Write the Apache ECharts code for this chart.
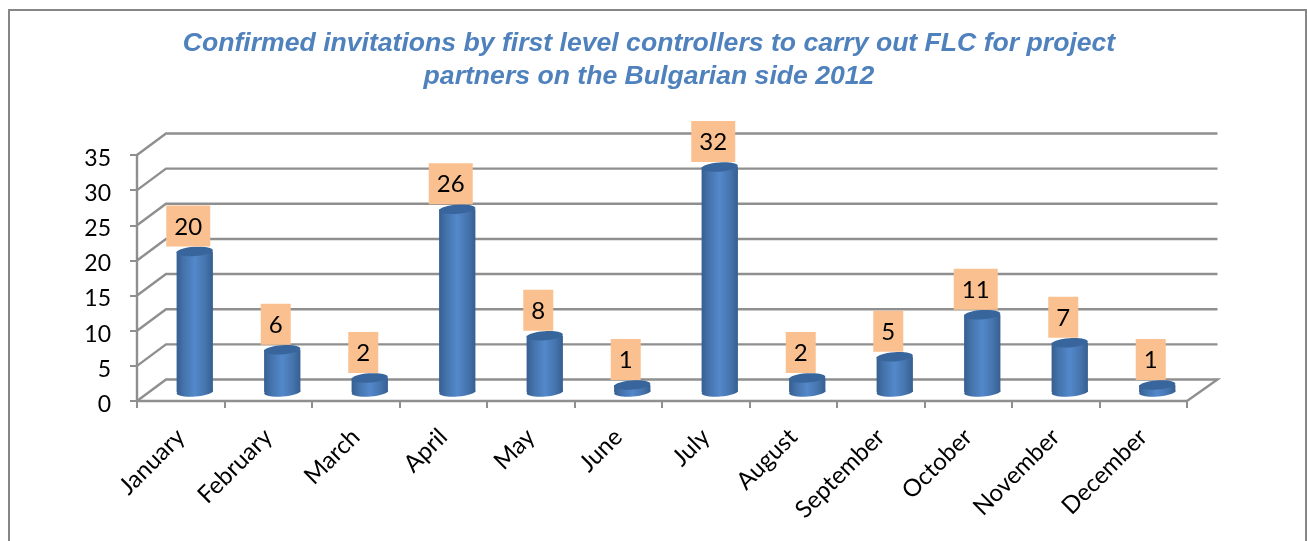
<!DOCTYPE html>
<html>
<head>
<meta charset="utf-8">
<style>html,body{margin:0;padding:0;background:#fff}#c{width:1307px;height:541px}</style>
<script src="https://cdn.jsdelivr.net/npm/echarts@6/dist/echarts.min.js"></script>
</head>
<body>
<div id="c"></div>
<script>
const titleText = "Confirmed invitations by first level controllers to carry out FLC for project\npartners on the Bulgarian side 2012";
const categories = ["January","February","March","April","May","June","July","August","September","October","November","December"];
const invitations = [20,6,2,26,8,1,32,2,5,11,7,1];
const yTicks = [0,5,10,15,20,25,30,35];

const DEPTH_X = 29, DEPTH_Y = 21.5, BAR_DX = 14, BAR_DY = 9;
const WALL = '#8f8f8f', TILT = 4 * Math.PI / 180;

const chart = echarts.init(document.getElementById('c'), null, {renderer:'canvas'});

function renderWall(params, api) {
  const cs = params.coordSys;
  const y = api.coord([0, api.value(1)])[1];
  const shape = [[cs.x, y], [cs.x + DEPTH_X, y - DEPTH_Y], [cs.x + cs.width + DEPTH_X + 1.5, y - DEPTH_Y]];
  if (api.value(1) === 0) shape.push([cs.x + cs.width, y]);
  return {type:'polyline', shape:{points:shape}, style:{stroke:WALL, lineWidth:2.4, fill:null}, silent:true};
}

function renderBar(params, api) {
  const p = api.coord([api.value(0), api.value(1)]);
  const base = api.coord([api.value(0), 0]);
  const w = api.size([1, 0])[0] * 0.415;
  const cx = p[0] + BAR_DX, topY = p[1] - BAR_DY, baseY = base[1] - BAR_DY;
  const grad = new echarts.graphic.LinearGradient(0, 0, 1, 0, [
    {offset:0, color:'#365f91'}, {offset:0.22, color:'#4675ae'},
    {offset:0.5, color:'#5388cb'}, {offset:0.78, color:'#4675ae'}, {offset:1, color:'#365f91'}
  ]);
  const ell = (cy, fill) => ({type:'ellipse', shape:{cx, cy, rx:w/2, ry:4.6}, rotation:TILT, originX:cx, originY:cy, style:{fill}});
  const lblW = String(api.value(1)).length > 1 ? 44 : 30;
  const lblCx = cx - 6.5, lblBottom = topY - 5, lblH = 41;
  return {type:'group', children:[
    ell(baseY, grad),
    {type:'rect', shape:{x:cx-w/2, y:topY, width:w, height:baseY-topY}, style:{fill:grad}},
    ell(topY, '#38669c'),
    {type:'rect', shape:{x:lblCx-lblW/2, y:lblBottom-lblH, width:lblW, height:lblH}, style:{fill:'#fac08f'}},
    {type:'text', style:{text:String(api.value(1)), x:lblCx, y:lblBottom-lblH/2+1, align:'center', verticalAlign:'middle',
      font:'24px Lato', fill:'#000'}}
  ]};
}

chart.setOption({
  animation:false,
  backgroundColor:'#fff',
  title:{text:titleText, left:644, top:22, textAlign:'center',
    textStyle:{fontFamily:'Liberation Sans', fontWeight:'bold', fontStyle:'italic', fontSize:26.6, lineHeight:33, color:'#4f81bd'}},
  grid:{left:137, right:120, top:155, bottom:140, containLabel:false},
  xAxis:{type:'category', data:categories,
    axisLine:{show:true, onZero:false, lineStyle:{color:WALL, width:2.4}},
    axisTick:{show:true, length:7, lineStyle:{color:WALL, width:2}},
    axisLabel:{interval:0, rotate:45, margin:32, fontFamily:'Lato', fontSize:24, color:'#000'},
    splitLine:{show:false}},
  yAxis:{type:'value', min:0, max:35, interval:5,
    axisLine:{show:true, lineStyle:{color:WALL, width:2.4}},
    axisTick:{show:true, length:7, lineStyle:{color:WALL, width:2}},
    axisLabel:{margin:26, formatter:'{v|{value}}', color:'#000',
      rich:{v:{padding:[7,0,0,0], fontFamily:'Lato', fontSize:23, color:'#000'}}},
    splitLine:{show:false}},
  graphic:[{type:'rect', z:-1, silent:true, shape:{x:9, y:10, width:1297, height:560}, style:{fill:null, stroke:'#868686', lineWidth:2}}],
  series:[
    {type:'custom', z:1, silent:true, clip:false, renderItem:renderWall, data:yTicks.map(v=>[0,v]), encode:{x:0,y:1}},
    {type:'custom', z:2, silent:true, clip:false, renderItem:renderBar, data:invitations.map((v,i)=>[i,v]), encode:{x:0,y:1}}
  ]
});
</script>
</body>
</html>
